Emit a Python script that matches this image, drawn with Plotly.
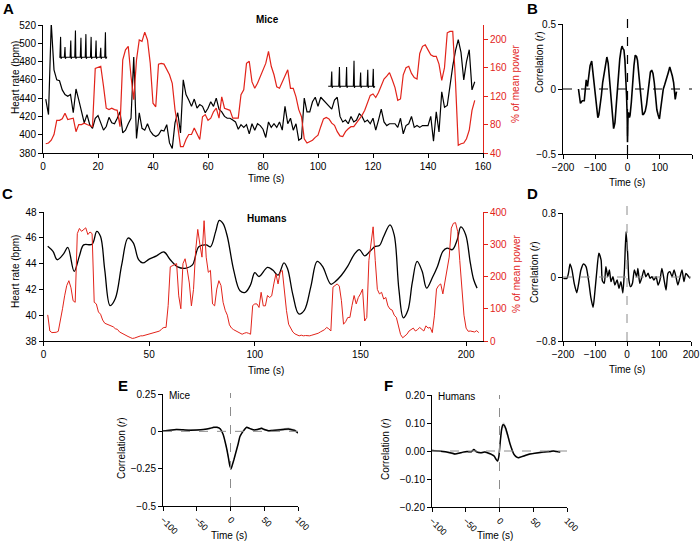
import numpy as np
import plotly.graph_objects as go

# ---------------- DATA ----------------
# Panel A (mice): heart rate (bpm) and EEG power (% of mean), 1 sample per s
mice_hr = [439, 422, 522, 471, 460, 459, 449, 444, 442, 444,
           424, 450, 438, 425, 413, 422, 411, 407, 418, 421,
           413, 405, 409, 419, 413, 412, 418, 425, 402, 405,
           412, 418, 485, 396, 424, 407, 405, 412, 404, 400,
           398, 400, 405, 404, 411, 391, 385, 413, 424, 402,
           460, 444, 438, 431, 439, 429, 433, 431, 424, 429,
           436, 431, 440, 428, 425, 420, 418, 418, 416, 414,
           406, 411, 408, 411, 401, 412, 405, 412, 410, 406,
           397, 414, 408, 412, 408, 414, 405, 431, 412, 418,
           405, 412, 394, 396, 440, 425, 425, 436, 441, 431,
           441, 438, 434, 431, 428, 438, 441, 420, 414, 416,
           412, 420, 414, 416, 423, 420, 414, 416, 412, 418,
           405, 416, 428, 414, 410, 412, 412, 412, 408, 418,
           401, 410, 412, 420, 408, 410, 408, 410, 410, 410,
           420, 393, 425, 403, 447, 430, 432, 455, 475, 492,
           504, 490, 460, 480, 493, 449, 458]
mice_power = [53, 54, 58, 66, 86, 86, 88, 96, 87, 88,
              89, 70, 80, 80, 82, 80, 79, 77, 159, 161,
              162, 134, 103, 101, 103, 101, 100, 77, 171, 185,
              190, 148, 115, 171, 199, 197, 210, 199, 166, 110,
              105, 165, 166, 165, 157, 150, 138, 101, 77, 49,
              49, 59, 66, 66, 75, 68, 59, 91, 94, 86,
              89, 98, 103, 89, 119, 103, 101, 100, 89, 89,
              89, 122, 129, 166, 169, 140, 131, 138, 147, 155,
              166, 183, 162, 150, 133, 131, 140, 148, 157, 131,
              131, 119, 101, 91, 60, 54, 56, 58, 62, 65,
              77, 88, 90, 88, 82, 79, 70, 64, 63, 70,
              74, 77, 77, 82, 88, 93, 100, 110, 121, 123,
              118, 125, 135, 144, 148, 153, 143, 132, 114, 116,
              150, 160, 162, 152, 146, 144, 180, 190, 192, 185,
              178, 176, 176, 165, 142, 160, 209, 211, 211, 140,
              51, 53, 54, 60, 72, 100, 114]
mice_time = np.arange(1, 1 + len(mice_hr))

# ECG insets in panel A (spike times in s, spike tops and baselines in bpm units)
ecg1_times = [6.4, 8.0, 10.1, 11.8, 13.8, 15.6, 17.5, 19.3, 21.0, 22.7]
ecg1_peaks = [507, 496, 503, 514, 506, 510, 507, 503, 495, 512]
ecg1_base, ecg1_start, ecg1_end = 484.7, 5.9, 22.9
ecg2_times = [105.0, 107.8, 110.4, 113.1, 115.5, 118.1, 120.1]
ecg2_peaks = [469, 474, 474, 481, 468, 471, 472]
ecg2_base, ecg2_start, ecg2_end = 453.0, 103.7, 120.7

# Panel B: mice cross-correlation
b_lag = [-152, -146, -140, -134, -128, -124, -120, -116, -111, -108,
         -104, -100, -96, -92, -89, -85, -81, -77, -72, -68,
         -64, -60, -56, -52, -48, -45, -43, -39, -36, -32,
         -28, -24, -20, -17, -14, -11, -8, -5, -3, -1,
         0, 1.5, 3, 6, 8, 12, 16, 20, 24, 28,
         31, 35, 39, 43, 47, 51, 55, 59, 63, 67,
         71, 75, 79, 83, 87, 91, 95, 99, 103, 107,
         111, 115, 119, 123, 127, 131, 135, 139, 143, 148, 152]
b_r = [0.0, -0.11, -0.09, -0.09, 0.07, 0.02, 0.1, 0.18, 0.215, 0.15,
       0.05, -0.06, -0.15, -0.22, -0.2, -0.14, -0.05, 0.05, 0.14, 0.2,
       0.246, 0.2, 0.08, -0.05, -0.19, -0.27, -0.305, -0.26, -0.15, 0.0,
       0.12, 0.23, 0.3, 0.33, 0.31, 0.3, 0.22, 0.1, -0.05, -0.2,
       -0.41, -0.22, -0.18, -0.22, -0.2, -0.1, 0.05, 0.18, 0.26, 0.25,
       0.22, 0.12, 0.0, -0.12, -0.2, -0.19, -0.17, -0.12, -0.03, 0.08,
       0.13, 0.145, 0.12, 0.05, -0.06, -0.16, -0.2, -0.23, -0.15, -0.05,
       0.0, 0.03, 0.06, 0.1, 0.13, 0.17, 0.14, 0.1, 0.05, -0.08, -0.02]

# Panel C (humans): heart rate (smooth) and EEG power
human_hr_time = [2, 4.5, 6.5, 9.5, 11.5, 14.5, 17, 19, 23, 25.2,
                 27, 29, 31.5, 34, 37, 40, 42.5, 45, 47, 50,
                 53.5, 57, 60, 63.5, 67.5, 70.5, 73.5, 77, 79, 81.5,
                 83.2, 85, 87, 90, 93, 95.5, 98, 100, 102, 106,
                 108.5, 111, 113.8, 115.5, 118, 120.8, 123.5, 126.5, 129.5, 132,
                 136, 138, 141, 144, 147, 149.5, 152, 154.5, 157, 159,
                 161, 164, 166, 168.2, 170.3, 172.5, 174.5, 176.8, 179.2, 181.3,
                 184, 186.5, 189, 191, 193.5, 195.8, 197.5, 199.8, 202, 203.6, 205.2]
human_hr = [45.35, 44.95, 44.3, 44.75, 45.25, 43.4, 44.6, 45.45, 45.5, 46.5,
            46.1, 43.5, 40.75, 41.3, 43.9, 45.98, 45.6, 44.3, 44.05, 44.35,
            44.6, 44.9, 44.3, 43.75, 43.65, 43.9, 45.3, 45.45, 45.3, 46.5,
            47.35, 47.1, 46.1, 43.5, 41.9, 41.77, 42.36, 43.3, 43.0, 43.7,
            43.5, 43.1, 44.05, 43.6, 41.6, 40.1, 40.4, 42.2, 44.17, 43.8,
            42.4, 42.6, 43.1, 43.8, 44.7, 45.08, 44.6, 44.95, 45.33, 45.4,
            46.1, 47.0, 46.2, 42.0, 39.8, 40.4, 42.5, 44.17, 43.4, 42.1,
            42.9, 43.8, 44.95, 45.2, 45.08, 45.85, 46.84, 46.24, 44.05, 42.75, 42.1]
human_power = [81, 31, 26, 26, 27, 30, 62, 100, 140, 172,
               187, 165, 125, 120, 333, 349, 340, 345, 351, 330,
               338, 333, 120, 115, 90, 83, 65, 55, 52, 50,
               47, 44, 38, 36, 28, 24, 20, 16, 14, 11,
               8, 9, 12, 14, 16, 16, 18, 20, 22, 24,
               26, 28, 31, 31, 38, 42, 42, 110, 230, 234,
               238, 240, 140, 100, 240, 255, 222, 180, 109, 160,
               280, 346, 300, 260, 373, 260, 213, 219, 115, 109,
               161, 187, 172, 120, 95, 80, 50, 40, 35, 31,
               28, 24, 21, 24, 26, 24, 21, 110, 115, 115,
               104, 151, 109, 109, 141, 135, 140, 177, 208, 177,
               213, 219, 150, 94, 52, 40, 28, 22, 18, 16,
               18, 16, 17, 16, 16, 18, 20, 21, 24, 28,
               31, 35, 42, 38, 31, 167, 172, 177, 170, 125,
               52, 60, 73, 73, 110, 141, 115, 135, 146, 161,
               62, 73, 250, 307, 354, 250, 160, 146, 151, 130,
               135, 109, 99, 96, 80, 73, 47, 20, 10, 15,
               21, 31, 35, 40, 31, 35, 42, 35, 31, 47,
               40, 42, 26, 78, 161, 172, 177, 146, 182, 219,
               260, 350, 365, 367, 340, 250, 160, 80, 40, 30,
               31, 30, 28, 32, 26]
human_power_time = np.arange(2, 2 + len(human_power))

# Panel D: human cross-correlation
d_lag = [-199, -188, -183, -178, -172, -165, -157, -151, -144, -136,
         -128, -120, -113, -106, -101, -94, -88, -81, -77, -71,
         -66, -60, -55, -50, -44, -38, -31, -25, -19, -13,
         -8, -3, 2, 6, 11, 17, 23, 30, 34, 40,
         47, 53, 59, 66, 72, 78, 84, 91, 97, 103,
         109, 116, 122, 128, 134, 141, 147, 153, 159, 166,
         172, 178, 184, 191, 197]
d_r = [-0.017, -0.017, 0.046, 0.163, 0.088, -0.079, -0.196, -0.079, 0.088, 0.163,
       0.13, -0.046, -0.254, -0.379, -0.213, 0.088, 0.296, 0.213, -0.046, -0.079,
       0.13, 0.004, 0.088, -0.058, 0.004, -0.1, -0.038, -0.142, -0.058, -0.2,
       0.088, 0.567, 0.296, -0.038, -0.121, -0.079, 0.088, 0.004, 0.108, -0.079,
       0.004, 0.088, 0.004, 0.046, -0.017, 0.004, -0.038, 0.004, -0.1, -0.038,
       0.108, -0.038, -0.163, 0.046, 0.067, 0.004, 0.088, 0.004, -0.1, 0.004,
       0.088, -0.058, 0.046, 0.013, -0.017]

# Panel E: mean mice cross-correlation (+/- SEM)
e_lag = [-100, -90, -80, -70, -60, -50, -40, -30, -25, -20,
         -15, -11, -8, -5, -3, -1, 1, 3, 5, 8,
         11, 14, 17, 20, 24, 28, 34, 40, 46, 50,
         56, 62, 70, 78, 86, 91, 95, 98, 100]
e_r = [0.002, 0.008, 0.012, 0.01, 0.008, 0.009, 0.012, 0.02, 0.027, 0.027,
       0.016, -0.02, -0.07, -0.13, -0.18, -0.23, -0.25, -0.22, -0.19, -0.14,
       -0.09, -0.035, -0.01, 0.008, 0.027, 0.02, 0.01, 0.012, 0.02, 0.012,
       0.004, 0.006, 0.009, 0.012, 0.016, 0.01, 0.006, -0.004, -0.01]
e_sem = [0.005, 0.005, 0.005, 0.005, 0.005, 0.005, 0.005, 0.006, 0.006, 0.006,
         0.006, 0.007, 0.008, 0.009, 0.01, 0.01, 0.01, 0.01, 0.009, 0.008,
         0.007, 0.006, 0.006, 0.006, 0.006, 0.006, 0.006, 0.006, 0.007, 0.007,
         0.007, 0.007, 0.008, 0.008, 0.009, 0.009, 0.009, 0.009, 0.009]

# Panel F: mean human cross-correlation (+/- SEM)
f_lag = [-100, -90, -80, -70, -66, -60, -54, -48, -42, -38,
         -34, -28, -22, -16, -12, -8, -5, -3, -1, 1,
         3, 5, 7, 9, 12, 15, 18, 21, 24, 28,
         33, 38, 45, 55, 65, 75, 80, 85, 90]
f_r = [0.002, 0.0, -0.003, -0.008, -0.011, -0.008, -0.004, -0.002, -0.003, 0.005,
       -0.003, -0.006, -0.004, -0.008, -0.012, -0.018, -0.03, -0.036, -0.02, 0.03,
       0.075, 0.093, 0.092, 0.082, 0.058, 0.03, 0.008, -0.01, -0.019, -0.024,
       -0.02, -0.016, -0.011, -0.007, -0.004, -0.002, 0.0, -0.002, -0.004]
f_sem = [0.003, 0.003, 0.003, 0.003, 0.003, 0.003, 0.003, 0.003, 0.003, 0.003,
         0.003, 0.003, 0.003, 0.003, 0.003, 0.004, 0.004, 0.005, 0.006, 0.007,
         0.008, 0.009, 0.009, 0.008, 0.007, 0.006, 0.005, 0.004, 0.004, 0.003,
         0.003, 0.003, 0.003, 0.003, 0.003, 0.003, 0.003, 0.003, 0.003]

# ---------------- STYLE / LAYOUT ----------------
W, H = 700, 541
RED = "#e2231a"
GREY = "#8c8c8c"
FONT = "Liberation Sans, Arial, Helvetica, sans-serif"


def dxp(a, b):
    return [a / W, b / W]


def dyp(top, bottom):
    return [1 - bottom / H, 1 - top / H]


def px(x):
    return x / W


def py(y):
    return 1 - y / H


def ax(**kw):
    base = dict(showgrid=False, zeroline=False, showline=True, linecolor="black",
                linewidth=1, ticks="outside", ticklen=4, tickwidth=1, tickcolor="black",
                tickfont=dict(size=10, color="black", family=FONT), fixedrange=True,
                automargin=False)
    base.update(kw)
    return base


def ecg_line(times, peaks, base, start, end):
    xs, ys = [start], [base]
    for t, p in zip(times, peaks):
        xs += [t - 0.25, t, t + 0.15, t + 0.4]
        ys += [base, p, base - 1.5, base]
    xs.append(end)
    ys.append(base)
    return xs, ys


fig = go.Figure()

# Panel A
fig.add_trace(go.Scatter(x=mice_time, y=mice_hr, mode="lines",
                         line=dict(color="black", width=1.2), xaxis="x", yaxis="y"))
ex, ey = ecg_line(ecg1_times, ecg1_peaks, ecg1_base, ecg1_start, ecg1_end)
fig.add_trace(go.Scatter(x=ex, y=ey, mode="lines", line=dict(color="black", width=1.1),
                         xaxis="x", yaxis="y"))
ex, ey = ecg_line(ecg2_times, ecg2_peaks, ecg2_base, ecg2_start, ecg2_end)
fig.add_trace(go.Scatter(x=ex, y=ey, mode="lines", line=dict(color="black", width=1.1),
                         xaxis="x", yaxis="y"))
fig.add_trace(go.Scatter(x=mice_time, y=mice_power, mode="lines",
                         line=dict(color=RED, width=1.2), xaxis="x", yaxis="y2"))

# Panel B
fig.add_trace(go.Scatter(x=b_lag, y=b_r, mode="lines",
                         line=dict(color="black", width=1.6), xaxis="x3", yaxis="y3"))

# Panel C
fig.add_trace(go.Scatter(x=human_power_time, y=human_power, mode="lines",
                         line=dict(color=RED, width=1.0), xaxis="x4", yaxis="y5"))
fig.add_trace(go.Scatter(x=human_hr_time, y=human_hr, mode="lines",
                         line=dict(color="black", width=1.3, shape="spline", smoothing=1.0),
                         xaxis="x4", yaxis="y4"))

# Panel D
fig.add_trace(go.Scatter(x=d_lag, y=d_r, mode="lines",
                         line=dict(color="black", width=1.4, shape="spline", smoothing=0.6),
                         xaxis="x6", yaxis="y6"))

# Panel E / F with SEM bands
for lag, r, sem, xa, ya in [(e_lag, e_r, e_sem, "x7", "y7"), (f_lag, f_r, f_sem, "x8", "y8")]:
    lag = np.array(lag, float)
    r = np.array(r, float)
    sem = np.array(sem, float)
    fig.add_trace(go.Scatter(x=np.concatenate([lag, lag[::-1]]),
                             y=np.concatenate([r + sem, (r - sem)[::-1]]),
                             fill="toself", mode="lines", line=dict(width=0),
                             fillcolor="rgba(150,150,150,0.55)", xaxis=xa, yaxis=ya))
    fig.add_trace(go.Scatter(x=lag, y=r, mode="lines",
                             line=dict(color="black", width=1.5, shape="spline", smoothing=0.5),
                             xaxis=xa, yaxis=ya))

SMALL = dict(size=9, color="black", family=FONT)

fig.update_layout(
    template="none",
    width=W, height=H, autosize=False,
    margin=dict(l=0, r=0, t=0, b=0, pad=0),
    paper_bgcolor="white", plot_bgcolor="white",
    showlegend=False,
    font=dict(family=FONT, size=10, color="black"),
    # A
    xaxis=ax(domain=dxp(43, 483), range=[0, 160], tickvals=list(range(0, 161, 20)), anchor="y"),
    yaxis=ax(domain=dyp(25, 153), range=[380, 520], tickvals=list(range(380, 521, 20)), anchor="x"),
    yaxis2=ax(overlaying="y", side="right", anchor="x", range=[40, 220],
              tickvals=[40, 80, 120, 160, 200], linecolor=RED, tickcolor=RED,
              tickfont=dict(size=10, color=RED, family=FONT)),
    # B
    xaxis3=ax(domain=dxp(563, 692), range=[-200, 200], tickvals=[-200, -100, 0, 100, 200], anchor="y3"),
    yaxis3=ax(domain=dyp(24, 154), range=[-0.5, 0.5], tickvals=[-0.5, 0, 0.5],
              ticktext=["\u22120.5", "0", "0.5"], anchor="x3"),
    # C
    xaxis4=ax(domain=dxp(43.5, 483), range=[0, 208], tickvals=[0, 50, 100, 150, 200], anchor="y4"),
    yaxis4=ax(domain=dyp(212, 341), range=[38, 48], tickvals=list(range(38, 49, 2)), anchor="x4"),
    yaxis5=ax(overlaying="y4", side="right", anchor="x4", range=[0, 400],
              tickvals=[0, 100, 200, 300, 400], linecolor=RED, tickcolor=RED,
              tickfont=dict(size=10, color=RED, family=FONT)),
    # D
    xaxis6=ax(domain=dxp(563, 691), range=[-200, 200], tickvals=[-200, -100, 0, 100, 200], anchor="y6"),
    yaxis6=ax(domain=dyp(213, 341), range=[-0.8, 0.8], tickvals=[-0.8, 0, 0.8],
              ticktext=["\u22120.8", "0", "0.8"], anchor="x6"),
    # E
    xaxis7=ax(domain=dxp(163, 298), range=[-100, 100], tickvals=[-100, -50, 0, 50, 100],
              tickangle=45, tickfont=SMALL, anchor="y7"),
    yaxis7=ax(domain=dyp(394, 506), range=[-0.5, 0.25], tickvals=[-0.5, -0.25, 0, 0.25],
              ticktext=["\u22120.5", "\u22120.25", "0", "0.25"], anchor="x7"),
    # F
    xaxis8=ax(domain=dxp(432, 567), range=[-100, 100], tickvals=[-100, -50, 0, 50, 100],
              tickangle=45, tickfont=SMALL, anchor="y8"),
    yaxis8=ax(domain=dyp(395, 507), range=[-0.2, 0.2], tickvals=[-0.2, -0.1, 0, 0.1, 0.2],
              ticktext=["\u22120.20", "\u22120.10", "0.00", "0.10", "0.20"], anchor="x8"),
)

# reference (zero) lines
shapes = [
    dict(type="line", xref="x3", yref="y3", x0=-200, x1=200, y0=0, y1=0,
         line=dict(color="black", width=1.2, dash="dash")),
    dict(type="line", xref="x3", yref="paper", x0=0, x1=0, y0=py(154), y1=py(17),
         line=dict(color="black", width=1.2, dash="dash")),
    dict(type="line", xref="x6", yref="y6", x0=-200, x1=200, y0=0, y1=0,
         line=dict(color=GREY, width=1, dash="dash")),
    dict(type="line", xref="x6", yref="paper", x0=0, x1=0, y0=py(341), y1=py(205),
         line=dict(color=GREY, width=1, dash="dash")),
    dict(type="line", xref="x7", yref="y7", x0=-100, x1=100, y0=0, y1=0,
         line=dict(color=GREY, width=1, dash="dash")),
    dict(type="line", xref="x7", yref="paper", x0=0, x1=0, y0=py(506), y1=py(393),
         line=dict(color=GREY, width=1, dash="dash")),
    dict(type="line", xref="x8", yref="y8", x0=-100, x1=100, y0=0, y1=0,
         line=dict(color=GREY, width=1, dash="dash")),
    dict(type="line", xref="x8", yref="paper", x0=0, x1=0, y0=py(507), y1=py(395),
         line=dict(color=GREY, width=1, dash="dash")),
]
fig.update_layout(shapes=shapes)


def note(text, x, y, size=10, color="black", bold=False, angle=0, xanchor="center"):
    if bold:
        text = "<b>" + text + "</b>"
    return dict(text=text, x=px(x), y=py(y), xref="paper", yref="paper",
                showarrow=False, xanchor=xanchor, yanchor="middle", textangle=angle,
                font=dict(size=size, color=color, family=FONT))


annots = [
    note("A", 8, 9, size=15, bold=True),
    note("B", 532, 9, size=15, bold=True),
    note("C", 7, 193, size=15, bold=True),
    note("D", 532, 193, size=15, bold=True),
    note("E", 123, 385, size=15, bold=True),
    note("F", 388, 385, size=15, bold=True),
    note("Mice", 267, 19, size=10, bold=True),
    note("Humans", 267, 218, size=10, bold=True),
    note("Heart rate (bpm)", 15, 78, angle=-90),
    note("% of mean power", 516, 84, color=RED, angle=-90),
    note("Time (s)", 266, 179),
    note("Correlation (<i>r</i>)", 539, 62, angle=-90),
    note("Time (s)", 627, 182),
    note("Heart rate (bpm)", 15, 272, angle=-90),
    note("% of mean power", 516, 274, color=RED, angle=-90),
    note("Time (s)", 266, 370),
    note("Correlation (<i>r</i>)", 534, 272, angle=-90),
    note("Time (s)", 627, 369),
    note("Correlation (<i>r</i>)", 121, 448, angle=-90),
    note("Time (s)", 229, 535),
    note("Mice", 167, 395, xanchor="left"),
    note("Correlation (<i>r</i>)", 385, 449, angle=-90),
    note("Time (s)", 495, 535),
    note("Humans", 436, 396, xanchor="left"),
]
fig.update_layout(annotations=annots)

fig.write_html(
    "out.html",
    config={"displayModeBar": False},
    post_script="document.body.style.margin='0px';document.body.style.overflow='hidden';",
)
